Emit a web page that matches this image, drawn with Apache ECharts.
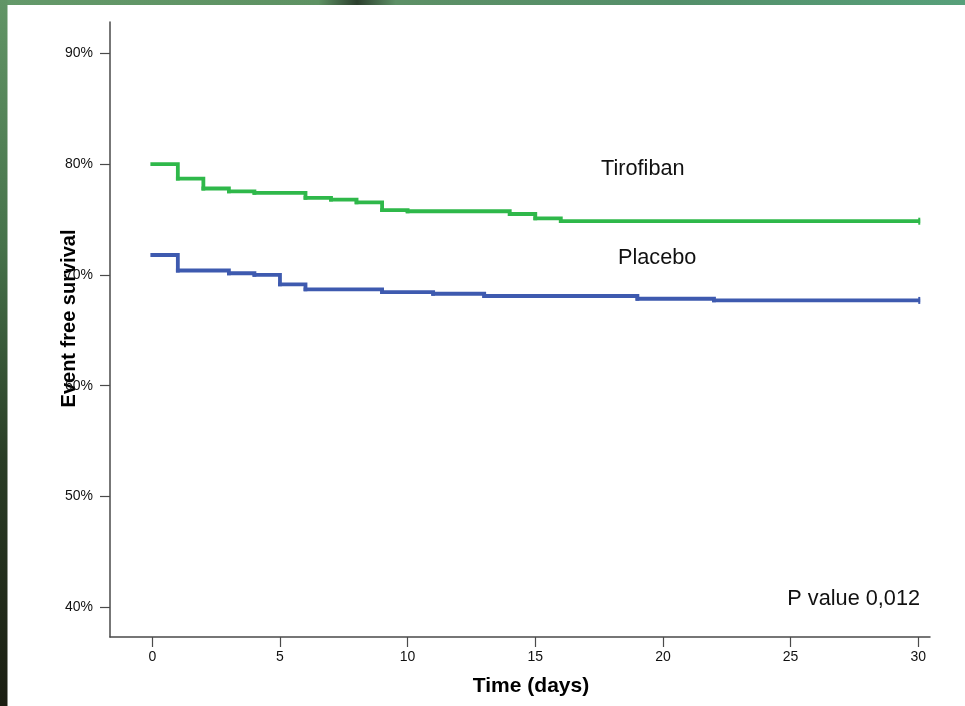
<!DOCTYPE html>
<html>
<head>
<meta charset="utf-8">
<script src="https://cdn.jsdelivr.net/npm/echarts@6/dist/echarts.min.js"></script>
<style>
html,body{margin:0;padding:0;background:#fff;}
#c{width:965px;height:706px;}
</style>
</head>
<body>
<div id="c"></div>
<script>
// Data
const tiroDays = [0, 1, 2, 3, 4, 6, 7, 8, 9, 10, 14, 15, 16, 30];
const tiroSurv = [80.0, 78.7, 77.8, 77.55, 77.4, 76.95, 76.8, 76.55, 75.85, 75.75, 75.5, 75.1, 74.85, 74.85];
const placDays = [0, 1, 3, 4, 5, 6, 9, 11, 13, 19, 22, 30];
const placSurv = [71.8, 70.4, 70.15, 70.0, 69.15, 68.7, 68.45, 68.3, 68.1, 67.85, 67.7, 67.7];
const xTicks = [0, 5, 10, 15, 20, 25, 30];
const yTicks = [40, 50, 60, 70, 80, 90];

const chart = echarts.init(document.getElementById('c'), null, { renderer: 'canvas' });
const axisColor = '#4a4a4a';
const font = 'Liberation Sans, Arial, sans-serif';

// Kaplan-Meier step curve, drawn through the axes' scales (api.coord)
function stepSeries(name, days, surv, color) {
  return {
    type: 'custom', name: name,
    data: days.map((d, i) => [d, surv[i]]),
    encode: { x: 0, y: 1 },
    clip: false,
    renderItem: function (params, api) {
      const i = params.dataIndexInside;
      const cur = api.coord([api.value(0), api.value(1)]);
      const children = [];
      if (i > 0) {
        const prev = api.coord([api.value(0, i - 1), api.value(1, i - 1)]);
        children.push({
          type: 'polyline',
          shape: { points: [prev, [cur[0], prev[1]], cur] },
          style: { stroke: color, lineWidth: 3.8, fill: null, lineJoin: 'miter', lineCap: 'square' }
        });
      }
      if (i === params.dataInsideLength - 1) {
        children.push({
          type: 'line',
          shape: { x1: cur[0] + 1, y1: cur[1] - 3.5, x2: cur[0] + 1, y2: cur[1] + 3.5 },
          style: { stroke: color, lineWidth: 2 }
        });
      }
      return { type: 'group', children: children };
    }
  };
}

chart.setOption({
  backgroundColor: '#ffffff',
  animation: false,
  graphic: [
    { type: 'rect', z: -10, silent: true, shape: { x: 0, y: 0, width: 965, height: 5 },
      style: { fill: new echarts.graphic.LinearGradient(0, 0, 1, 0, [
        { offset: 0, color: '#64996a' }, { offset: 0.33, color: '#5e9263' },
        { offset: 0.37, color: '#2b3f2d' }, { offset: 0.41, color: '#5d9066' },
        { offset: 0.7, color: '#548f6a' }, { offset: 1, color: '#57a07a' }]) } },
    { type: 'rect', z: -10, silent: true, shape: { x: 0, y: 0, width: 7.5, height: 706 },
      style: { fill: new echarts.graphic.LinearGradient(0, 0, 0, 1, [
        { offset: 0, color: '#629566' }, { offset: 0.35, color: '#46724a' },
        { offset: 0.65, color: '#2a3d26' }, { offset: 1, color: '#1b1e12' }]) } },
    { type: 'text', left: 601, top: 158, style: { text: 'Tirofiban', font: '21.7px ' + font, fill: '#111' } },
    { type: 'text', left: 618, top: 247, style: { text: 'Placebo', font: '21.7px ' + font, fill: '#111' } },
    { type: 'text', right: 45, top: 588, style: { text: 'P value 0,012', font: '21.7px ' + font, fill: '#111' } }
  ],
  grid: { left: 110, top: 22, right: 35, bottom: 69, containLabel: false },
  xAxis: {
    type: 'value', min: -1.657, max: 30.46,
    name: 'Time (days)', nameLocation: 'middle', nameGap: 39, nameMoveOverlap: false,
    nameTextStyle: { fontFamily: font, fontSize: 21, fontWeight: 'bold', color: '#000', padding: [0, 0, 0, 22] },
    axisLine: { show: true, onZero: false, lineStyle: { color: axisColor, width: 1.5 } },
    axisTick: { show: true, length: 10, customValues: xTicks, lineStyle: { color: axisColor, width: 1.2 } },
    axisLabel: { customValues: xTicks, margin: 13, fontFamily: font, fontSize: 14, color: '#111' },
    splitLine: { show: false }
  },
  yAxis: {
    type: 'value', min: 37.32, max: 92.83,
    name: 'Event free survival', nameLocation: 'middle', nameGap: 31, nameMoveOverlap: false,
    nameTextStyle: { fontFamily: font, fontSize: 20, fontWeight: 'bold', color: '#000', padding: [0, 0, 0, 22] },
    axisLine: { show: true, onZero: false, lineStyle: { color: axisColor, width: 1.5 } },
    axisTick: { show: true, length: 10, customValues: yTicks, lineStyle: { color: axisColor, width: 1.2 } },
    axisLabel: { customValues: yTicks, margin: 17, fontFamily: font, fontSize: 14, color: '#111',
      formatter: v => v + '%' },
    splitLine: { show: false }
  },
  series: [
    stepSeries('Tirofiban', tiroDays, tiroSurv, '#2fb84a'),
    stepSeries('Placebo', placDays, placSurv, '#3e5aaf')
  ]
});
</script>
</body>
</html>
